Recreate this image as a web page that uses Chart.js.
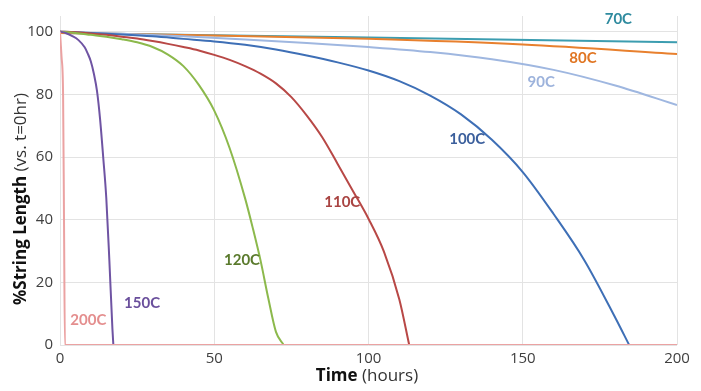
<!DOCTYPE html>
<html>
<head>
<meta charset="utf-8">
<script src="https://cdn.jsdelivr.net/npm/chart.js@4"></script>
<style>
  html, body { margin: 0; padding: 0; background: #fff; }
  .chart-box { position: relative; width: 701px; height: 391px; }
</style>
</head>
<body>
<div class="chart-box"><canvas id="c"></canvas></div>
<script>
// Aging curves: % string length vs. hours at each temperature.
const t70 = [0, 100, 200];
const v70 = [99.6, 98.1, 96.6];
const t80 = [0, 50, 100, 150, 200];
const v80 = [99.6, 98.8, 97.7, 95.9, 92.9];
const t90 = [0, 20, 40, 60, 80, 100, 120, 140, 160, 180, 200];
const v90 = [100, 99.3, 98.5, 97.5, 96.4, 95.1, 93.5, 91.2, 87.8, 82.8, 76.6];
const t100 = [0, 10, 20, 30, 40, 50, 60, 70, 80, 90, 100, 110, 120, 130, 140, 150, 160, 170, 180, 184.5];
const v100 = [100, 99.6, 99.1, 98.5, 97.7, 96.9, 95.8, 94.3, 92.4, 90.2, 87.6, 84.2, 79.6, 73.6, 65.5, 55.2, 41.8, 27, 8.7, 0];
const t110 = [0, 5, 10, 15, 20, 25, 30, 35, 40, 45, 50, 55, 60, 65, 70, 75, 80, 85, 90, 95, 100, 105, 110, 113.2];
const v110 = [100, 99.8, 99.4, 99, 98.4, 97.8, 97, 96.1, 95.1, 94, 92.6, 91, 89, 86.6, 83.5, 79.1, 73.2, 66.3, 57.8, 49.1, 40.3, 29.8, 14.5, 0];
const t120 = [0, 5, 10, 15, 20, 25, 30, 35, 40, 45, 50, 55, 60, 62.5, 65, 67.5, 70, 72.5];
const v120 = [100, 99.6, 99, 98.4, 97.6, 96.6, 95.1, 92.7, 89, 83, 74.8, 62.8, 46.8, 37.3, 27, 15, 4.2, 0];
const t150 = [0, 2, 4, 6, 8, 9, 10, 11, 12, 13, 14, 15, 16, 17, 17.3];
const v150 = [100, 99.5, 98.6, 97.3, 95, 93, 90.5, 86.5, 81, 72, 60, 47, 27, 5, 0];
const t200 = [0, 0.5, 1, 1.3, 1.6, 200];
const v200 = [100, 92, 80, 40, 0, 0];

const xTicks = [0, 50, 100, 150, 200];
const yTicks = [0, 20, 40, 60, 80, 100];

// curve label text + where it sits (data coords)
const curveLabels = [
  { text: "70C", x: 181, y: 104, color: "#2f8b9f" },
  { text: "80C", x: 169.5, y: 91.5, color: "#e07522" },
  { text: "90C", x: 156, y: 84, color: "#9db3dc" },
  { text: "100C", x: 132, y: 65.8, color: "#3b5f9c" },
  { text: "110C", x: 91.5, y: 45.5, color: "#a94442" },
  { text: "120C", x: 59, y: 27, color: "#5a7a2c" },
  { text: "150C", x: 26.6, y: 13.5, color: "#6a4f9c" },
  { text: "200C", x: 9.2, y: 7.8, color: "#e48e8e" },
];

const series = [
  ["200C", t200, v200, "#eba2a2"],
  ["150C", t150, v150, "#6f54a3"],
  ["120C", t120, v120, "#8cb94c"],
  ["110C", t110, v110, "#b84846"],
  ["100C", t100, v100, "#3e6fb6"],
  ["90C", t90, v90, "#9fb7e0"],
  ["80C", t80, v80, "#e8802e"],
  ["70C", t70, v70, "#3c9db0"],
];

const FONT = "'Open Sans', 'DejaVu Sans', sans-serif";

const labelPlugin = {
  id: "curveLabels",
  afterDatasetsDraw(chart) {
    const { ctx, scales: { x, y } } = chart;
    ctx.save();
    ctx.font = "bold 15px Lato, sans-serif";
    ctx.textAlign = "center";
    ctx.textBaseline = "middle";
    curveLabels.forEach((l) => {
      ctx.fillStyle = l.color;
      ctx.fillText(l.text, x.getPixelForValue(l.x), y.getPixelForValue(l.y));
    });
    ctx.restore();
  },
  afterDraw(chart) {
    const { ctx } = chart;
    // axis titles: bold head + normal tail, like the original
    const mixed = (bold, rest, cx, cy, rot) => {
      ctx.save();
      ctx.translate(cx, cy);
      ctx.rotate(rot);
      ctx.fillStyle = "#111";
      ctx.textBaseline = "middle";
      ctx.textAlign = "left";
      ctx.font = "bold 17px " + FONT;
      const w1 = ctx.measureText(bold).width;
      ctx.font = "17px " + FONT;
      const w2 = ctx.measureText(rest).width;
      const x0 = -(w1 + w2) / 2;
      ctx.font = "bold 17px " + FONT;
      ctx.fillText(bold, x0, 0);
      ctx.font = "17px " + FONT;
      ctx.fillStyle = "#333";
      ctx.fillText(rest, x0 + w1, 0);
      ctx.restore();
    };
    mixed("%String Length", " (vs. t=0hr)", 21, 199, -Math.PI / 2);
    mixed("Time", " (hours)", 367, 376, 0);
  },
};

new Chart(document.getElementById("c"), {
  type: "line",
  data: {
    datasets: series.map(([label, ts, vs, color]) => ({
      label,
      data: ts.map((t, i) => ({ x: t, y: vs[i] })),
      borderColor: color,
      backgroundColor: color,
      borderWidth: 2,
      pointRadius: 0,
      cubicInterpolationMode: "monotone",
      fill: false,
    })),
  },
  options: {
    responsive: true,
    maintainAspectRatio: false,
    animation: false,
    layout: { padding: { top: 15, right: 24, left: 0, bottom: 0 } },
    plugins: { legend: { display: false }, tooltip: { enabled: false } },
    scales: {
      x: {
        type: "linear",
        min: 0,
        max: 200,
        afterBuildTicks: (s) => { s.ticks = xTicks.map((v) => ({ value: v })); },
        afterFit: (s) => { s.height = 46; },
        grid: { color: "#e3e3e3", drawTicks: false },
        border: { display: false },
        ticks: { color: "#404040", padding: 5, font: { family: FONT, size: 15 } },
      },
      y: {
        min: 0,
        max: 105,
        afterBuildTicks: (s) => { s.ticks = yTicks.map((v) => ({ value: v })); },
        afterFit: (s) => { s.width = 60; },
        grid: { color: "#e3e3e3", drawTicks: false },
        border: { display: false },
        ticks: { color: "#404040", padding: 7, font: { family: FONT, size: 15 } },
      },
    },
  },
  plugins: [labelPlugin],
});
</script>
</body>
</html>
